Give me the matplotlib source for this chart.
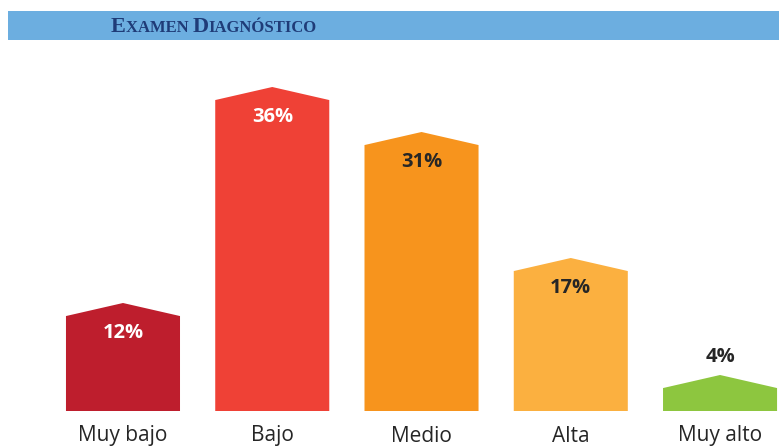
import matplotlib
matplotlib.use("Agg")
import matplotlib.pyplot as plt
from matplotlib.patches import Polygon, Rectangle
from matplotlib.offsetbox import TextArea, HPacker, AnchoredOffsetbox

categories = ["Muy bajo", "Bajo", "Medio", "Alta", "Muy alto"]
values = [12, 36, 31, 17, 4]
labels = ["12%", "36%", "31%", "17%", "4%"]
colors = ["#BE1E2D", "#EF4136", "#F7941D", "#FBB040", "#8DC63F"]
label_colors = ["white", "white", "#262626", "#262626", "#262626"]
title_parts = [("E", 16), ("XAMEN ", 12), ("D", 16), ("IAGNÓSTICO", 12)]

W, H = 779, 446
fig = plt.figure(figsize=(W / 100, H / 100), dpi=100)
fig.patch.set_facecolor("white")

# header band
fig.patches.append(Rectangle((8 / W, 1 - 40 / H), 1 - 8 / W, 29 / H,
                             transform=fig.transFigure, facecolor="#6CAEE0",
                             edgecolor="none", zorder=0))

children = [TextArea(t, textprops=dict(fontsize=s, family="Liberation Serif",
                                       fontweight="bold", color="#1F3C78"))
            for t, s in title_parts]
pack = HPacker(children=children, align="baseline", pad=0, sep=0)
fig.add_artist(AnchoredOffsetbox(loc="center", child=pack, frameon=False,
                                 bbox_to_anchor=(214 / W, 1 - 27 / H),
                                 bbox_transform=fig.transFigure, pad=0, borderpad=0))

ax = fig.add_axes([0, (H - 411) / H, 1, 360 / H])
ax.set_xlim(-0.824, 4.395)
ax.set_ylim(0, 40)
ax.axis("off")

width = 0.764
cap = 1.45
for i, (v, c) in enumerate(zip(values, colors)):
    x0, x1 = i - width / 2, i + width / 2
    poly = Polygon([(x0, 0), (x0, v - cap), (i, v), (x1, v - cap), (x1, 0)],
                   closed=True, facecolor=c, edgecolor="none")
    ax.add_patch(poly)
    off = -30 if v >= 8 else 18
    ax.annotate(labels[i], (i, v), xytext=(0, off), textcoords="offset pixels",
                ha="center", va="center", fontsize=14.5, fontweight="bold",
                family="Open Sans", color=label_colors[i])
    ax.annotate(categories[i], (i, 0), xytext=(0, -25), textcoords="offset pixels",
                ha="center", va="center", fontsize=15, family="Open Sans",
                color="#262626", annotation_clip=False)

fig.savefig("out.png", dpi=100)
